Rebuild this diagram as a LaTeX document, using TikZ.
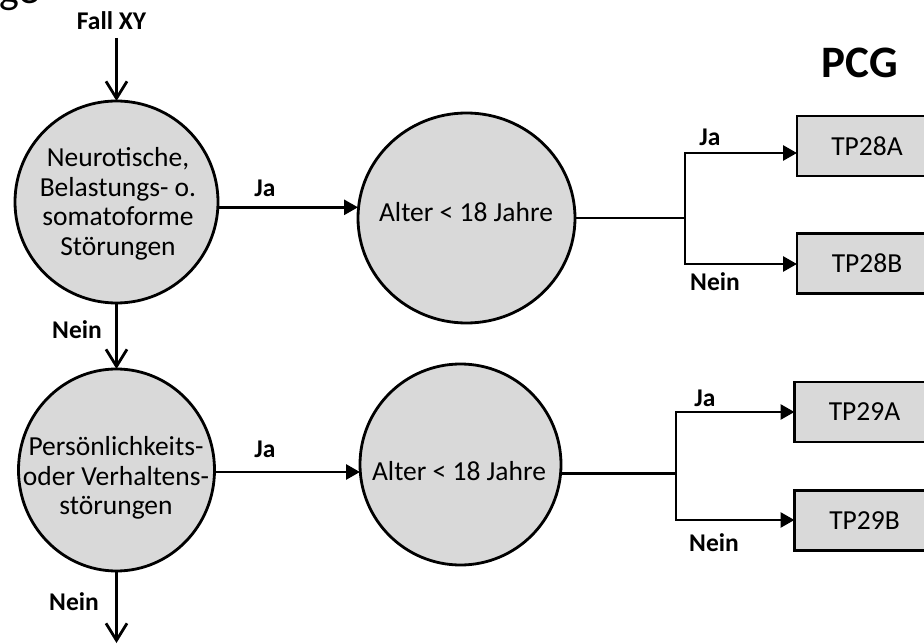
\documentclass[tikz,border=0pt]{standalone}
\usepackage{fontspec}
\setmainfont{Carlito}
\usetikzlibrary{arrows.meta,shapes.geometric}
\definecolor{cfill}{HTML}{D9D9D9}
\begin{document}
\begin{tikzpicture}[x=1pt,y=-1pt,
  dec/.style={ellipse, draw=black, line width=2.8pt, fill=cfill, inner sep=0pt, outer sep=0pt},
  ctext/.style={align=center, inner sep=0pt, font=\fontsize{27.5}{29.6}\selectfont},
  res/.style={rectangle, draw=black, line width=2.8pt, fill=cfill, minimum width=140pt, minimum height=60pt, inner sep=0pt, outer sep=0pt, font=\fontsize{27.5}{30}\selectfont},
  lab/.style={inner sep=0pt, font=\bfseries\fontsize{25.5}{28}\selectfont},
  flow/.style={line width=2.8pt, -{Triangle[length=14pt,width=15pt]}},
  down/.style={line width=2.8pt, -{Straight Barb[length=17pt,width=21pt,line width=2.8pt]}},
  seg/.style={line width=2.8pt}]
\useasboundingbox (0,0) rectangle (924,644);

% cut-off heading fragment
\node[anchor=base west, inner sep=0pt, font=\fontsize{42}{42}\selectfont] (head) at (-1,3.5) {ge};

% title
\node[anchor=base, inner sep=0pt, font=\bfseries\fontsize{45}{50}\selectfont] (pcg) at (860,78) {PCG};

% decision circles
\node[dec, minimum width=203pt, minimum height=202pt] (c1) at (116.5,202) {};
\node[dec, minimum width=217pt, minimum height=210pt] (c2) at (466.5,218) {};
\node[dec, minimum width=196pt, minimum height=202pt] (c3) at (116.5,470) {};
\node[dec, minimum width=201pt, minimum height=201pt] (c4) at (460.5,464.5) {};

\node[ctext] (t1) at (118,204) {Neurotische,\\Belastungs- o.\\somatoforme\\Störungen};
\node[ctext] (t2) at (466,212) {Alter < 18 Jahre};
\node[ctext] (t3) at (116,478) {Persönlichkeits-\\oder Verhaltens-\\störungen};
\node[ctext] (t4) at (459,471) {Alter < 18 Jahre};

% result boxes
\node[res] (b28a) at (867,146) {TP28A};
\node[res] (b28b) at (867,263.5) {TP28B};
\node[res] (b29a) at (864.5,412) {TP29A};
\node[res] (b29b) at (864.5,520.5) {TP29B};

% labels
\node[lab] (fall) at (111.5,21) {Fall XY};
\node[lab] (ja1) at (265,188) {Ja};
\node[lab] (nein1) at (77,330) {Nein};
\node[lab] (ja2) at (710,137) {Ja};
\node[lab] (nein2) at (715,282) {Nein};
\node[lab] (ja3) at (265,449) {Ja};
\node[lab] (nein3) at (74,602) {Nein};
\node[lab] (ja4) at (705,398) {Ja};
\node[lab] (nein4) at (714,543) {Nein};

% helper coordinates
\coordinate (s0) at (116.5,38);
\coordinate (e0) at (116.5,643);
\coordinate (j1) at (685,218);
\coordinate (k1) at (685,153);
\coordinate (k2) at (685,264);
\coordinate (j2) at (676,473.5);
\coordinate (k3) at (676,412);
\coordinate (k4) at (676,520);

% vertical flow
\draw[down] (s0) -- (s0 |- c1.north);
\draw[down] (c1.south) -- (c3.north);
\draw[down] (c3.south) -- (e0);

% horizontal flow
\draw[flow] (c1.-3.4) -- (c1.-3.4 -| c2.west);
\draw[flow] ([yshift=-2pt]c3.east) -- ([yshift=-2pt]c3.east -| c4.west);

% branches
\draw[seg] (c2.east) -- (j1);
\draw[flow] (j1) -- (k1) -- (k1 -| b28a.west);
\draw[flow] (j1) -- (k2) -- (k2 -| b28b.west);
\draw[seg] (c4.-5.1 |- j2) -- (j2);
\draw[flow] (j2) -- (k3) -- (k3 -| b29a.west);
\draw[flow] (j2) -- (k4) -- (k4 -| b29b.west);
\end{tikzpicture}
\end{document}
